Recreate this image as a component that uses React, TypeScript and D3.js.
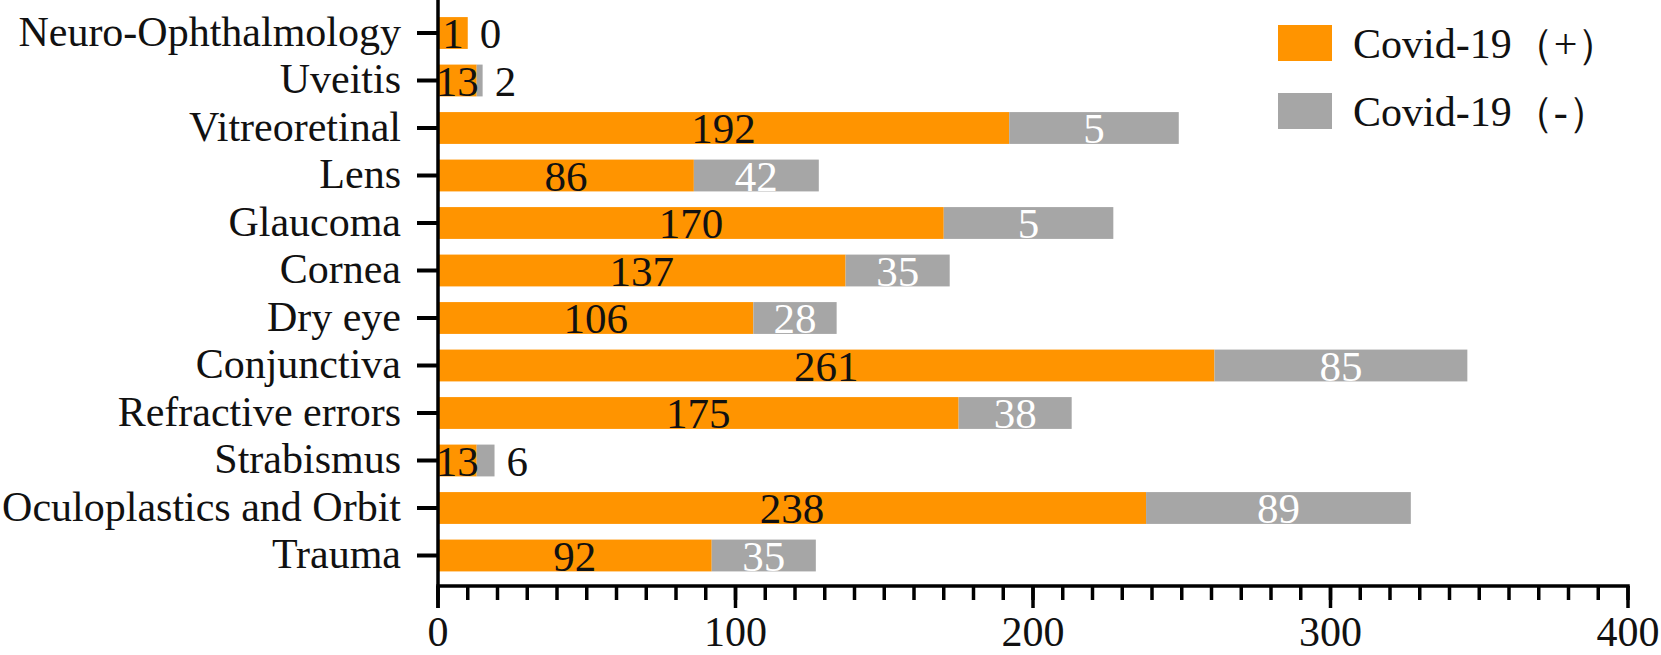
import React from 'react';
import * as d3 from 'd3';

const categories = [
  'Neuro-Ophthalmology', 'Uveitis', 'Vitreoretinal', 'Lens', 'Glaucoma', 'Cornea',
  'Dry eye', 'Conjunctiva', 'Refractive errors', 'Strabismus', 'Oculoplastics and Orbit', 'Trauma',
];
const positive = [10, 13, 192, 86, 170, 137, 106, 261, 175, 13, 238, 92];
const negative = [0, 2, 57, 42, 57, 35, 28, 85, 38, 6, 89, 35];
const positiveLabels = ['1', '13', '192', '86', '170', '137', '106', '261', '175', '13', '238', '92'];
const negativeLabels = ['0', '2', '5', '42', '5', '35', '28', '85', '38', '6', '89', '35'];
const seriesNames = ['Covid-19（+）', 'Covid-19（-）'];
const seriesColors = ['#FF9400', '#A6A6A6'];
const majorTicks = [0, 100, 200, 300, 400];
const minorTicks = d3.range(0, 401, 10);

const W = 1661, H = 655;
const FONT = "'Liberation Serif'";

export default function App() {
  const x = d3.scaleLinear().domain([0, 400]).range([438, 1628]);
  const y = d3.scaleBand<string>().domain(categories).range([9.25, 579.25])
    .paddingInner(0.33).paddingOuter(0.165);
  const bw = y.bandwidth();
  const axisY = 586;
  const sw = 3.5;

  return (
    <svg width={W} height={H} style={{ display: 'block', position: 'absolute', left: 0, top: 0, background: '#fff', fontFamily: FONT }}>
      {/* bars */}
      {categories.map((c, i) => {
        const y0 = y(c)!;
        const p = positive[i], n = negative[i];
        const outside = n < 10;
        return (
          <g key={c}>
            <rect x={x(0)} y={y0} width={x(p) - x(0)} height={bw} fill={seriesColors[0]} />
            <rect x={x(p)} y={y0} width={x(p + n) - x(p)} height={bw} fill={seriesColors[1]} />
            <text x={(x(0) + x(p)) / 2} y={y0 + bw / 2} dy="0.35em" textAnchor="middle"
              fontSize={43} fill="#111" style={{ fontFamily: FONT }}>{positiveLabels[i]}</text>
            <text x={outside ? x(p + n) + 12 : (x(p) + x(p + n)) / 2} y={y0 + bw / 2} dy="0.35em"
              textAnchor={outside ? 'start' : 'middle'} fontSize={43}
              fill={outside ? '#111' : '#fff'} style={{ fontFamily: FONT }}>{negativeLabels[i]}</text>
          </g>
        );
      })}

      {/* y axis */}
      {categories.map(c => {
        const yc = y(c)! + bw / 2;
        return (
          <g key={'t' + c}>
            <line x1={x(0) - 21} x2={x(0)} y1={yc} y2={yc} stroke="#000" strokeWidth={4} />
            <text x={x(0) - 37} y={yc} dy="0.3em" textAnchor="end" fontSize={42} fill="#111"
              style={{ fontFamily: FONT }}>{c}</text>
          </g>
        );
      })}
      <line x1={x(0)} x2={x(0)} y1={0} y2={axisY + 22} stroke="#000" strokeWidth={sw} />

      {/* x axis */}
      {minorTicks.map(t => (
        <line key={'m' + t} x1={x(t)} x2={x(t)} y1={axisY} y2={axisY + 14} stroke="#000" strokeWidth={sw} />
      ))}
      {majorTicks.map(t => (
        <g key={'M' + t}>
          <line x1={x(t)} x2={x(t)} y1={axisY} y2={axisY + 22} stroke="#000" strokeWidth={sw} />
          <text x={x(t)} y={axisY + 60} textAnchor="middle" fontSize={42} fill="#111"
            style={{ fontFamily: FONT }}>{t}</text>
        </g>
      ))}
      <line x1={x(0) - sw / 2} x2={x(400) + sw / 2} y1={axisY} y2={axisY} stroke="#000" strokeWidth={sw} />

      {/* legend */}
      {seriesNames.map((s, i) => (
        <g key={s} transform={`translate(1278,${25 + i * 68})`}>
          <rect width={54} height={36} fill={seriesColors[i]} />
          <text x={75} y={18} dy="0.35em" fontSize={42} fill="#111" style={{ fontFamily: FONT }}>{s}</text>
        </g>
      ))}
    </svg>
  );
}
